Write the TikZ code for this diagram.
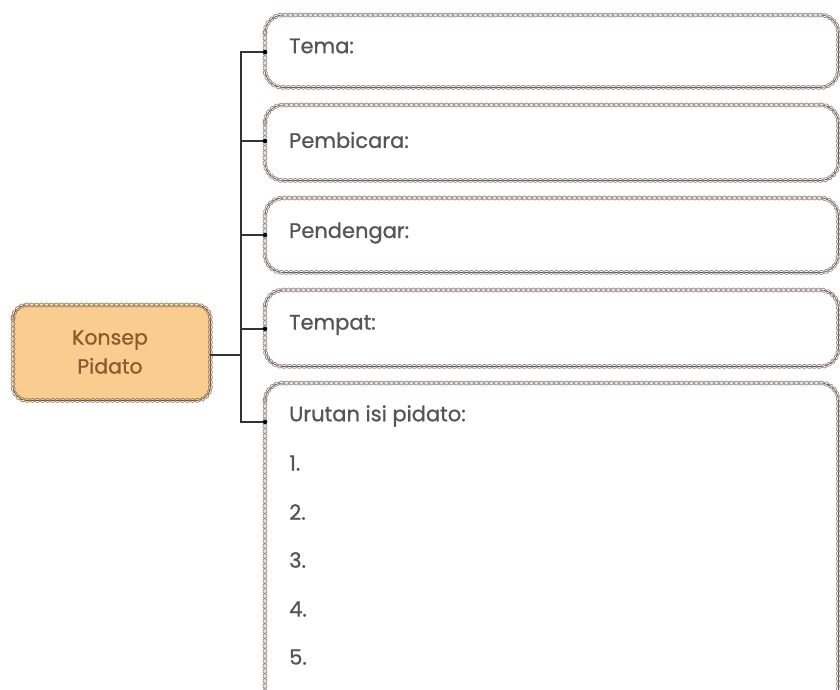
\documentclass[tikz,border=0pt]{standalone}
\usepackage{fontspec}
\setmainfont{Poppins}[FakeBold=0.9]
\usetikzlibrary{decorations.markings}
\definecolor{chaincol}{HTML}{9A8888}
\definecolor{konsepfill}{HTML}{F9CD8F}
\definecolor{konsepline}{HTML}{A08060}
\definecolor{txtcol}{HTML}{555555}
\definecolor{konseptxt}{HTML}{8A5A30}
\tikzset{
  chain/.style={decoration={markings, mark=between positions 0 and 1 step 5pt with {\draw[#1, line width=0.75pt] (0,0) ellipse (2.5pt and 2pt);}}, postaction={decorate}},
  boxarea/.style={draw=none, inner sep=0pt, anchor=north west},
  lbl/.style={anchor=west, text=txtcol, font=\fontsize{21}{22}\selectfont, inner sep=0pt},
  conn/.style={draw=black!80, line width=1.1pt},
  tipdot/.style={circle, fill=black, inner sep=0pt, minimum size=4.5pt},
}
\begin{document}
\begin{tikzpicture}[x=1pt,y=-1pt]
\useasboundingbox (0,0) rectangle (840,689);
\clip (0,0) rectangle (840,689);
% Konsep Pidato
\node[boxarea, minimum width=197pt, minimum height=95pt, fill=konsepfill, rounded corners=14pt] (k) at (13,305) {};
\draw[chain=konsepline, rounded corners=14pt] (k.north west) rectangle (k.south east);
\node[text=konseptxt, align=center, font=\fontsize{20.5}{29}\selectfont] (kt) at (110,352) {Konsep\\Pidato};
% boxes
\node[boxarea, minimum width=573pt, minimum height=72pt] (b1) at (265,15) {};
\node[boxarea, minimum width=573pt, minimum height=75pt] (b2) at (265,105) {};
\node[boxarea, minimum width=573pt, minimum height=74pt] (b3) at (265,198) {};
\node[boxarea, minimum width=573pt, minimum height=76pt] (b4) at (265,290) {};
\node[boxarea, minimum width=573pt, minimum height=330pt] (b5) at (265,383) {};
\foreach \b in {b1,b2,b3,b4,b5}{
  \draw[chain=chaincol, rounded corners=18pt] (\b.north west) rectangle (\b.south east);
}
% labels
\node[lbl] (t1) at (289,46) {Tema:};
\node[lbl] (t2) at (289,140) {Pembicara:};
\node[lbl] (t3) at (289,233) {Pendengar:};
\node[lbl] (t4) at (289,325) {Tempat:};
\node[lbl] (t5) at (289,416) {Urutan isi pidato:};
\node[lbl] (n1) at (289,463) {1.};
\node[lbl] (n2) at (289,512) {2.};
\node[lbl] (n3) at (289,560) {3.};
\node[lbl] (n4) at (289,609) {4.};
\node[lbl] (n5) at (289,657) {5.};
% connectors
\coordinate (tr) at (241,0);
\coordinate (d1) at (265,52);
\coordinate (d2) at (265,141);
\coordinate (d3) at (265,235);
\coordinate (d4) at (265,329);
\coordinate (d5) at (265,422);
\draw[conn] (d1) -| (tr |- d5) -- (d5);
\draw[conn] (k.east |- 0,355) -- (tr |- 0,355);
\draw[conn] (tr |- d2) -- (d2);
\draw[conn] (tr |- d3) -- (d3);
\draw[conn] (tr |- d4) -- (d4);
\foreach \d in {d1,d2,d3,d4,d5}{ \node[tipdot] at (\d) {}; }
\end{tikzpicture}
\end{document}
